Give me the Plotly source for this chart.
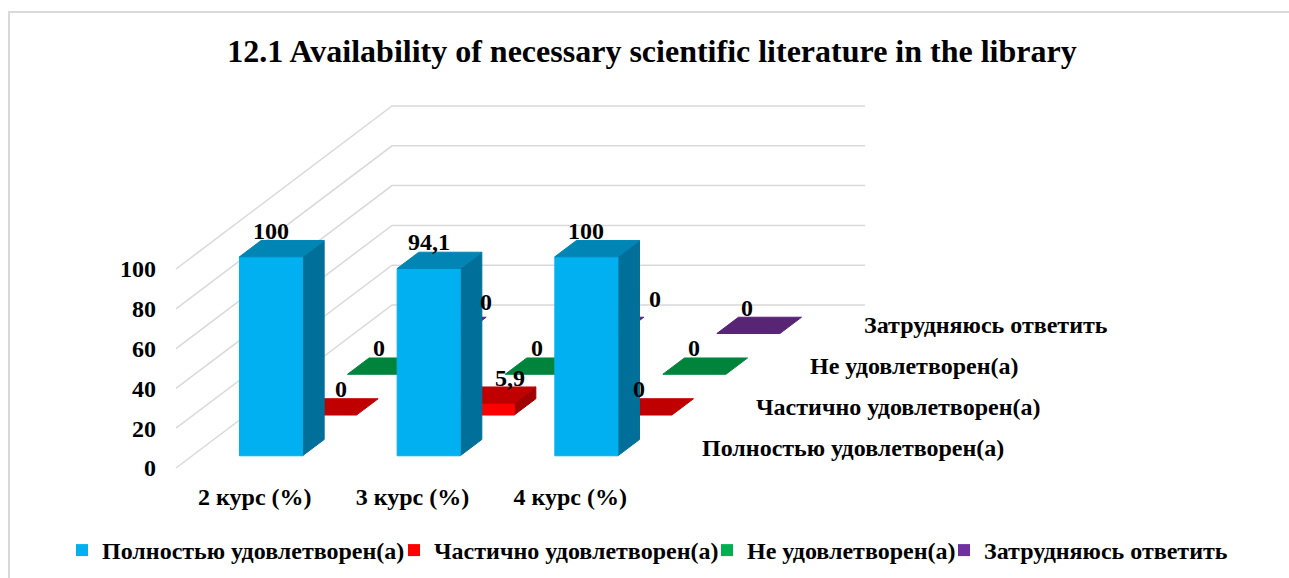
import plotly.graph_objects as go

# ---------- data ----------
title = "12.1 Availability of necessary scientific literature in the library"
categories = ["2 курс (%)", "3 курс (%)", "4 курс (%)"]
series_names = ["Полностью удовлетворен(а)", "Частично удовлетворен(а)", "Не удовлетворен(а)", "Затрудняюсь ответить"]
full = [100, 94.1, 100]
partial = [0, 5.9, 0]
unsatisfied = [0, 0, 0]
no_answer = [0, 0, 0]
value_ticks = [0, 20, 40, 60, 80, 100]
labels_full = ["100", "94,1", "100"]
labels_partial = ["0", "5,9", "0"]
labels_unsat = ["0", "0", "0"]
labels_noans = ["0", "0", "0"]

# ---------- style ----------
FONT = "Liberation Serif"
legend_cols = ["#00B0F0", "#FF0000", "#00B050", "#7030A0"]
front_cols = ["#00B0F0", "#FF0000", "#00B050", "#7030A0"]
top_cols = ["#0085B5", "#C00000", "#00843C", "#582575"]
side_cols = ["#00709A", "#A00000", "#006B30", "#47205F"]
all_vals = [full, partial, unsatisfied, no_answer]
all_labels = [labels_full, labels_partial, labels_unsat, labels_noans]
# label nudges in pixels relative to the centre of the bar top
label_shift = [
    [(-11, -18), (-11, -18), (-11, -18)],
    [(5, -18), (16, -17), (-12, -18)],
    [(-11, -18), (-11, -18), (-11, -18)],
    [(42, -23), (53, -26), (-12, -17)],
]
# left edge of each legend block, in pixels
legend_x = [62, 394, 707, 944]

# oblique projection: pixels per unit
PX_CAT, PX_D_X, PX_D_Y, PX_V = 157.67, 54.0, 40.75, 1.99
K_X = PX_D_X / PX_CAT
K_Y = PX_D_Y / PX_V
BAR_W, BAR_D = 0.40, 0.40


def proj(c, d, v):
    return c + K_X * d, v + K_Y * d


def poly(pts):
    xy = [proj(*p) for p in pts]
    xs = [p[0] for p in xy] + [xy[0][0]]
    ys = [p[1] for p in xy] + [xy[0][1]]
    return xs, ys


fig = go.Figure()


def face(pts, color):
    xs, ys = poly(pts)
    fig.add_trace(go.Scatter(x=xs, y=ys, mode="lines", fill="toself", fillcolor=color,
                             line=dict(color=color, width=1), showlegend=False, hoverinfo="skip"))


# back wall + side wall grid
for v in value_ticks:
    xs, ys = zip(*[proj(0, 0, v), proj(0, 4, v), proj(3, 4, v)])
    fig.add_trace(go.Scatter(x=xs, y=ys, mode="lines", line=dict(color="#D9D9D9", width=1.5),
                             showlegend=False, hoverinfo="skip"))

# bars, painted back to front
for s in range(3, -1, -1):
    d0, d1 = s + 0.5 - BAR_D / 2, s + 0.5 + BAR_D / 2
    for c, v in enumerate(all_vals[s]):
        c0, c1 = c + 0.5 - BAR_W / 2, c + 0.5 + BAR_W / 2
        if v > 0:
            face([(c1, d0, 0), (c1, d1, 0), (c1, d1, v), (c1, d0, v)], side_cols[s])
            face([(c0, d0, 0), (c1, d0, 0), (c1, d0, v), (c0, d0, v)], front_cols[s])
        face([(c0, d0, v), (c1, d0, v), (c1, d1, v), (c0, d1, v)], top_cols[s])

# legend entries, one legend block each so they sit where the reference has them
W, H = 1289, 578
legend_layout = {}
for i, (name, col) in enumerate(zip(series_names, legend_cols)):
    key = "legend" if i == 0 else "legend%d" % (i + 1)
    fig.add_trace(go.Scatter(x=[None], y=[None], mode="markers", name=name, legend=key,
                             marker=dict(symbol="square", size=12, color=col)))
    legend_layout[key] = dict(x=legend_x[i] / W, xref="container", xanchor="left",
                              y=1 - 550.5 / H, yref="container", yanchor="middle",
                              bgcolor="rgba(0,0,0,0)", borderwidth=0,
                              font=dict(family=FONT, size=24, color="black", weight="bold"))

ann = []
for s in range(4):
    for c, v in enumerate(all_vals[s]):
        x, y = proj(c + 0.5, s + 0.5, v)
        dx, dy = label_shift[s][c]
        ann.append(dict(x=x, y=y, text="<b>%s</b>" % all_labels[s][c], showarrow=False,
                        xshift=dx, yshift=-dy, font=dict(family=FONT, size=24, color="black")))
    x, y = proj(3, s + 0.5, 0)
    ann.append(dict(x=x, y=y, text="<b>%s</b>" % series_names[s], showarrow=False, xanchor="left",
                    xshift=24, yshift=0, font=dict(family=FONT, size=24, color="black")))

L, T, B = 157, 90, 98
plot_w, plot_h = W - L, H - T - B
x_lo = (L - 176) / PX_CAT
x_hi = x_lo + plot_w / PX_CAT
y_lo = (468 - (H - B)) / PX_V
y_hi = y_lo + plot_h / PX_V

fig.update_layout(
    width=W, height=H, margin=dict(l=L, r=0, t=T, b=B, autoexpand=False),
    paper_bgcolor="white", plot_bgcolor="white",
    title=dict(text="<b>%s</b>" % title, x=652 / W, xanchor="center", y=1 - 51 / H, yanchor="middle",
               font=dict(family=FONT, size=32, color="black")),
    xaxis=dict(range=[x_lo, x_hi], tickmode="array", tickvals=[0.5, 1.5, 2.5], ticktext=["<b>%s</b>" % t for t in categories],
               showgrid=False, zeroline=False, showline=False, ticks="", ticklen=0,
               tickfont=dict(family=FONT, size=24, color="black")),
    yaxis=dict(range=[y_lo, y_hi], tickmode="array", tickvals=value_ticks,
               ticktext=["<b>%d</b>" % v for v in value_ticks],
               showgrid=False, zeroline=False, showline=False, ticks="",
               tickfont=dict(family=FONT, size=24, color="black")),
    annotations=ann,
    shapes=[dict(type="rect", xref="paper", yref="paper", layer="below",
                 x0=(9 - L) / plot_w, x1=(1320 - L) / plot_w,
                 y0=(H - B - 620) / plot_h, y1=(H - B - 12) / plot_h,
                 line=dict(color="#D9D9D9", width=2))],
    **legend_layout,
)
fig.write_html("out.html", config={"displayModeBar": False}, post_script="document.body.style.margin='0';")
